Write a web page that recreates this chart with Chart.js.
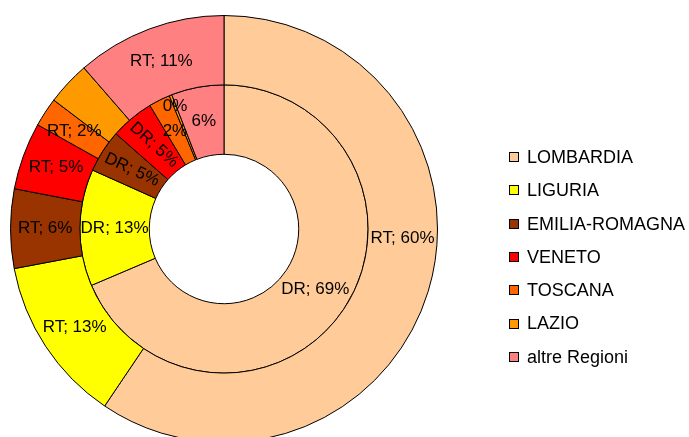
<!DOCTYPE html>
<html>
<head>
<meta charset="utf-8">
<script src="https://cdn.jsdelivr.net/npm/chart.js@4.4.1/dist/chart.umd.min.js"></script>
<style>
    html, body { margin: 0; padding: 0; background: #fff; overflow: hidden; }
    #wrap { width: 689px; height: 460px; }
</style>
</head>
<body>
<div id="wrap"><canvas id="chart" width="689" height="460"></canvas></div>
<script>
// Regions (legend order, also slice order clockwise from 12 o'clock)
const regioni = ['LOMBARDIA', 'LIGURIA', 'EMILIA-ROMAGNA', 'VENETO', 'TOSCANA', 'LAZIO', 'altre Regioni'];
const colori = ['#FFCC99', '#FFFF00', '#993300', '#FF0000', '#FF6600', '#FF9900', '#FF8080'];

// Outer ring (RT) and inner ring (DR), percent values
const valoriRT = [59.5, 12.6, 6.0, 5.1, 2.2, 3.3, 11.4];
const valoriDR = [68.6, 13.1, 4.8, 4.9, 2.4, 0.3, 5.9];

// How each slice label is written: 'full' = "RT; 60%", 'value' = "6%", 'none' = hidden
const etichetteRT = ['full', 'full', 'full', 'full', 'full', 'none', 'full'];
const etichetteDR = ['full', 'full', 'full', 'full', 'value', 'value', 'value'];
// rotation of some labels (degrees)
const rotazioneDR = [0, 0, 25, 42, 0, 0, 0];
const rotazioneRT = [0, 0, 0, 0, 0, 0, 0];

const FONT = '"Liberation Sans", Arial, sans-serif';

/**
 * Draws the "RT; 60%" style labels inside each ring slice
 */
const sliceLabels = {
    id: 'sliceLabels',
    afterDatasetsDraw(chart) {
        const ctx = chart.ctx;
        ctx.save();
        ctx.font = '17px ' + FONT;
        ctx.fillStyle = '#000';
        ctx.textAlign = 'center';
        ctx.textBaseline = 'middle';

        chart.data.datasets.forEach((ds, di) => {
            const meta = chart.getDatasetMeta(di);
            meta.data.forEach((arc, i) => {
                const modo = ds.etichette[i];
                if (modo === 'none') return;
                const p = arc.getProps(['x', 'y', 'startAngle', 'endAngle', 'innerRadius', 'outerRadius'], true);
                let mid = (p.startAngle + p.endAngle) / 2;
                let r = (p.innerRadius + p.outerRadius) / 2;
                const v = ds.data[i];
                // tiny slice: push label towards the outer edge
                if (v < 1) r = p.outerRadius - 12;
                // biggest outer slice label sits higher up in the original
                if (di === 0 && i === 0) mid -= 14 * Math.PI / 180;
                const x = p.x + Math.cos(mid) * r;
                const y = p.y + Math.sin(mid) * r;
                const testo = modo === 'full'
                    ? `${ds.label}; ${Math.round(v)}%`
                    : `${Math.round(v)}%`;
                ctx.save();
                ctx.translate(x, y);
                ctx.rotate((ds.rotazione[i] || 0) * Math.PI / 180);
                ctx.fillText(testo, 0, 0);
                ctx.restore();
            });
        });
        ctx.restore();
    }
};

/**
 * Legend on the right, square swatch + name
 */
const legendaDestra = {
    id: 'legendaDestra',
    afterDraw(chart) {
        const ctx = chart.ctx;
        const x0 = 509.5, y0 = 157, passo = 33.3;
        ctx.save();
        ctx.font = '18px ' + FONT;
        ctx.textBaseline = 'middle';
        ctx.textAlign = 'left';
        ctx.lineWidth = 1;
        regioni.forEach((nome, i) => {
            const cy = y0 + i * passo;
            ctx.fillStyle = colori[i];
            ctx.fillRect(x0, Math.round(cy) - 4.5, 9, 9);
            ctx.strokeStyle = '#000';
            ctx.strokeRect(x0, Math.round(cy) - 4.5, 9, 9);
            ctx.fillStyle = '#000';
            ctx.fillText(nome, 527, cy + 1);
        });
        ctx.restore();
    }
};

new Chart(document.getElementById('chart'), {
    type: 'doughnut',
    data: {
        labels: regioni,
        datasets: [
            {
                label: 'RT',
                data: valoriRT,
                backgroundColor: colori,
                borderColor: '#000',
                borderWidth: 1,
                etichette: etichetteRT,
                rotazione: rotazioneRT
            },
            {
                label: 'DR',
                data: valoriDR,
                backgroundColor: colori,
                borderColor: '#000',
                borderWidth: 1,
                etichette: etichetteDR,
                rotazione: rotazioneDR
            }
        ]
    },
    options: {
        responsive: false,
        animation: false,
        devicePixelRatio: 1,
        cutout: '35%',
        layout: {
            padding: { left: 10, top: 15, bottom: 17, right: 251 }
        },
        plugins: {
            legend: { display: false },
            tooltip: { enabled: false }
        },
        events: []
    },
    plugins: [sliceLabels, legendaDestra]
});
</script>
</body>
</html>
